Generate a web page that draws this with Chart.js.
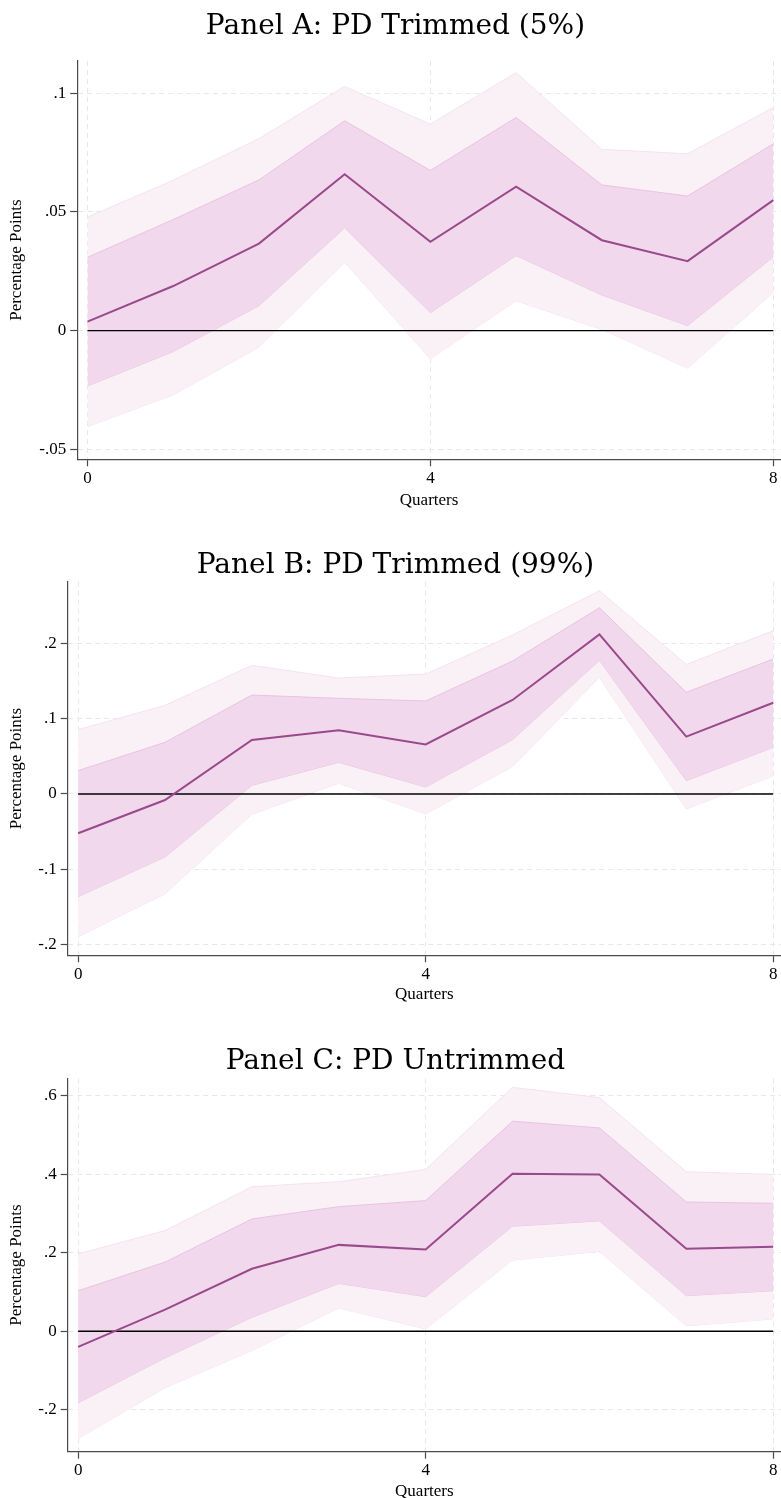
<!DOCTYPE html>
<html>
<head>
<meta charset="utf-8">
<title>PD impulse responses</title>
<script src="https://cdn.jsdelivr.net/npm/chart.js@4"></script>
<style>
  html, body { margin: 0; padding: 0; background: #fff; overflow: hidden; }
  canvas { position: absolute; left: 0; }
</style>
</head>
<body>
<canvas id="panelA" width="781" height="515" style="top:0px"></canvas>
<canvas id="panelB" width="781" height="490" style="top:515px"></canvas>
<canvas id="panelC" width="781" height="493" style="top:1005px"></canvas>

<script>
// Impulse responses with two confidence bands, one chart per panel.
// Values.

const quarters = [0, 1, 2, 3, 4, 5, 6, 7, 8];
const xTicks = [0, 4, 8];

// -------------------
// Panel A: PD Trimmed (5%)
// -------------------
const aEst     = [0.0038, 0.0188, 0.0367, 0.0659, 0.0374, 0.0607, 0.0381, 0.0293, 0.0550];
const aInnerHi = [0.0309, 0.0468, 0.0635, 0.0884, 0.0675, 0.0898, 0.0614, 0.0567, 0.0787];
const aInnerLo = [-0.0233, -0.0088, 0.0105, 0.0433, 0.0076, 0.0316, 0.0150, 0.0021, 0.0311];
const aOuterHi = [0.0478, 0.0634, 0.0809, 0.1029, 0.0870, 0.1087, 0.0764, 0.0745, 0.0940];
const aOuterLo = [-0.0404, -0.0271, -0.0070, 0.0288, -0.0119, 0.0126, 0.0005, -0.0158, 0.0160];
const aTicks   = [-0.05, 0, 0.05, 0.1];

// -------------------
// Panel B: PD Trimmed (99%)
// -------------------
const bEst     = [-0.0522, -0.0080, 0.0717, 0.0845, 0.0659, 0.1248, 0.2119, 0.0761, 0.1212];
const bInnerHi = [0.0310, 0.0686, 0.1314, 0.1270, 0.1235, 0.1765, 0.2473, 0.1350, 0.1792];
const bInnerLo = [-0.1363, -0.0836, 0.0115, 0.0420, 0.0093, 0.0721, 0.1774, 0.0177, 0.0619];
const bOuterHi = [0.0854, 0.1177, 0.1708, 0.1540, 0.1593, 0.2111, 0.2699, 0.1721, 0.2168];
const bOuterLo = [-0.1898, -0.1327, -0.0270, 0.0142, -0.0265, 0.0363, 0.1549, -0.0199, 0.0239];
const bTicks   = [-0.2, -0.1, 0, 0.1, 0.2];

// -------------------
// Panel C: PD Untrimmed
// -------------------
const cEst     = [-0.0398, 0.0551, 0.1593, 0.2203, 0.2085, 0.4017, 0.4000, 0.2102, 0.2153];
const cInnerHi = [0.1034, 0.1763, 0.2864, 0.3178, 0.3331, 0.5356, 0.5186, 0.3297, 0.3263];
const cInnerLo = [-0.1822, -0.0678, 0.0356, 0.1220, 0.0881, 0.2678, 0.2814, 0.0907, 0.1034];
const cOuterHi = [0.1975, 0.2568, 0.3686, 0.3814, 0.4127, 0.6220, 0.5958, 0.4068, 0.4000];
const cOuterLo = [-0.2737, -0.1441, -0.0492, 0.0593, 0.0059, 0.1814, 0.2034, 0.0136, 0.0314];
const cTicks   = [-0.2, 0, 0.2, 0.4, 0.6];

const LINE_COLOR = '#984a8b';
const INNER_FILL = '#f2d8ec';
const INNER_EDGE = '#e9c3e1';
const OUTER_FILL = '#faf1f7';
const OUTER_EDGE = '#f5e2ef';
const AXIS_COLOR = '#4a4a4a';
const GRID_COLOR = '#e8e8e8';
const SERIF = "'Liberation Serif', 'Times New Roman', serif";

Chart.defaults.color = '#000';

function toPoints(values) {
  return quarters.map((q, i) => ({ x: q, y: values[i] }));
}

// Stata style labels: .05, -.1, 0
function stataLabel(v) {
  if (Math.abs(v) < 1e-12) return '0';
  const s = String(Math.round(v * 1000) / 1000);
  return s.replace(/^(-?)0\./, '$1.');
}

function drawPanel(canvasId, p) {
  const canvas = document.getElementById(canvasId);
  const h = canvas.height;
  const padLeft = 10;

  new Chart(canvas, {
    type: 'line',
    data: {
      datasets: [
        { data: toPoints(p.est), borderColor: LINE_COLOR, borderWidth: 2, fill: false },
        { data: [{ x: 0, y: 0 }, { x: 8, y: 0 }], borderColor: '#000', borderWidth: 1.4, fill: false },
        { data: toPoints(p.innerHi), borderColor: INNER_EDGE, borderWidth: 1, backgroundColor: INNER_FILL, fill: '+1' },
        { data: toPoints(p.innerLo), borderColor: INNER_EDGE, borderWidth: 1, fill: false },
        { data: toPoints(p.outerHi), borderColor: OUTER_EDGE, borderWidth: 1, backgroundColor: OUTER_FILL, fill: '+1' },
        { data: toPoints(p.outerLo), borderColor: OUTER_EDGE, borderWidth: 1, fill: false }
      ]
    },
    options: {
      responsive: false,
      animation: false,
      devicePixelRatio: 1,
      layout: { padding: { left: padLeft, right: 0, top: 0, bottom: 0 } },
      elements: { point: { radius: 0, hoverRadius: 0 }, line: { tension: 0 } },
      plugins: {
        legend: { display: false },
        tooltip: { enabled: false },
        title: {
          display: true,
          text: p.title,
          color: '#000',
          font: { family: "'DejaVu Serif', serif", size: 28, weight: 'normal', lineHeight: 1 },
          padding: { top: p.titleTop, bottom: p.titleBottom }
        }
      },
      scales: {
        x: {
          type: 'linear',
          min: -0.12,
          max: 8.09,
          afterBuildTicks: axis => { axis.ticks = xTicks.map(v => ({ value: v })); },
          afterFit: axis => { axis.height = p.xAxisHeight; },
          ticks: { font: { family: SERIF, size: 17 }, padding: 2, maxRotation: 0 },
          grid: { color: GRID_COLOR, lineWidth: 1, tickColor: AXIS_COLOR, tickLength: 7, tickWidth: 1.2, tickBorderDash: [] },
          border: { display: true, color: AXIS_COLOR, width: 1.2, dash: [5, 4] },
          title: {
            display: true,
            text: 'Quarters',
            font: { family: SERIF, size: 17, lineHeight: 0.8 },
            padding: { top: 0, bottom: p.xTitleBottom }
          }
        },
        y: {
          type: 'linear',
          min: p.yMin,
          max: p.yMax,
          afterBuildTicks: axis => { axis.ticks = p.yTicks.map(v => ({ value: v })); },
          afterFit: axis => { axis.width = p.yAxisX - padLeft; },
          ticks: { font: { family: SERIF, size: 17 }, padding: 4, callback: v => stataLabel(v) },
          grid: { color: GRID_COLOR, lineWidth: 1, tickColor: AXIS_COLOR, tickLength: 7, tickWidth: 1.2, tickBorderDash: [] },
          border: { display: true, color: AXIS_COLOR, width: 1.2, dash: [5, 4] },
          title: {
            display: true,
            text: 'Percentage Points',
            font: { family: SERIF, size: 17, lineHeight: 0.8 },
            padding: { top: 0.2, bottom: 0 }
          }
        }
      }
    }
  });
}

drawPanel('panelA', {
  title: 'Panel A: PD Trimmed (5%)',
  est: aEst, innerHi: aInnerHi, innerLo: aInnerLo, outerHi: aOuterHi, outerLo: aOuterLo,
  yTicks: aTicks, yMin: -0.0542, yMax: 0.1136,
  titleTop: 13.2, titleBottom: 19.8,
  yAxisX: 77.2, xAxisHeight: 515 - 459.3, xTitleBottom: 7.7
});

drawPanel('panelB', {
  title: 'Panel B: PD Trimmed (99%)',
  est: bEst, innerHi: bInnerHi, innerLo: bInnerLo, outerHi: bOuterHi, outerLo: bOuterLo,
  yTicks: bTicks, yMin: -0.2142, yMax: 0.2819,
  titleTop: 37.2, titleBottom: 1.5,
  yAxisX: 67.7, xAxisHeight: 490 - 440.3, xTitleBottom: 3.2
});

drawPanel('panelC', {
  title: 'Panel C: PD Untrimmed',
  est: cEst, innerHi: cInnerHi, innerLo: cInnerLo, outerHi: cOuterHi, outerLo: cOuterLo,
  yTicks: cTicks, yMin: -0.307, yMax: 0.645,
  titleTop: 43.2, titleBottom: 2.1,
  yAxisX: 67.7, xAxisHeight: 493 - 446.7, xTitleBottom: 0
});
</script>
</body>
</html>
